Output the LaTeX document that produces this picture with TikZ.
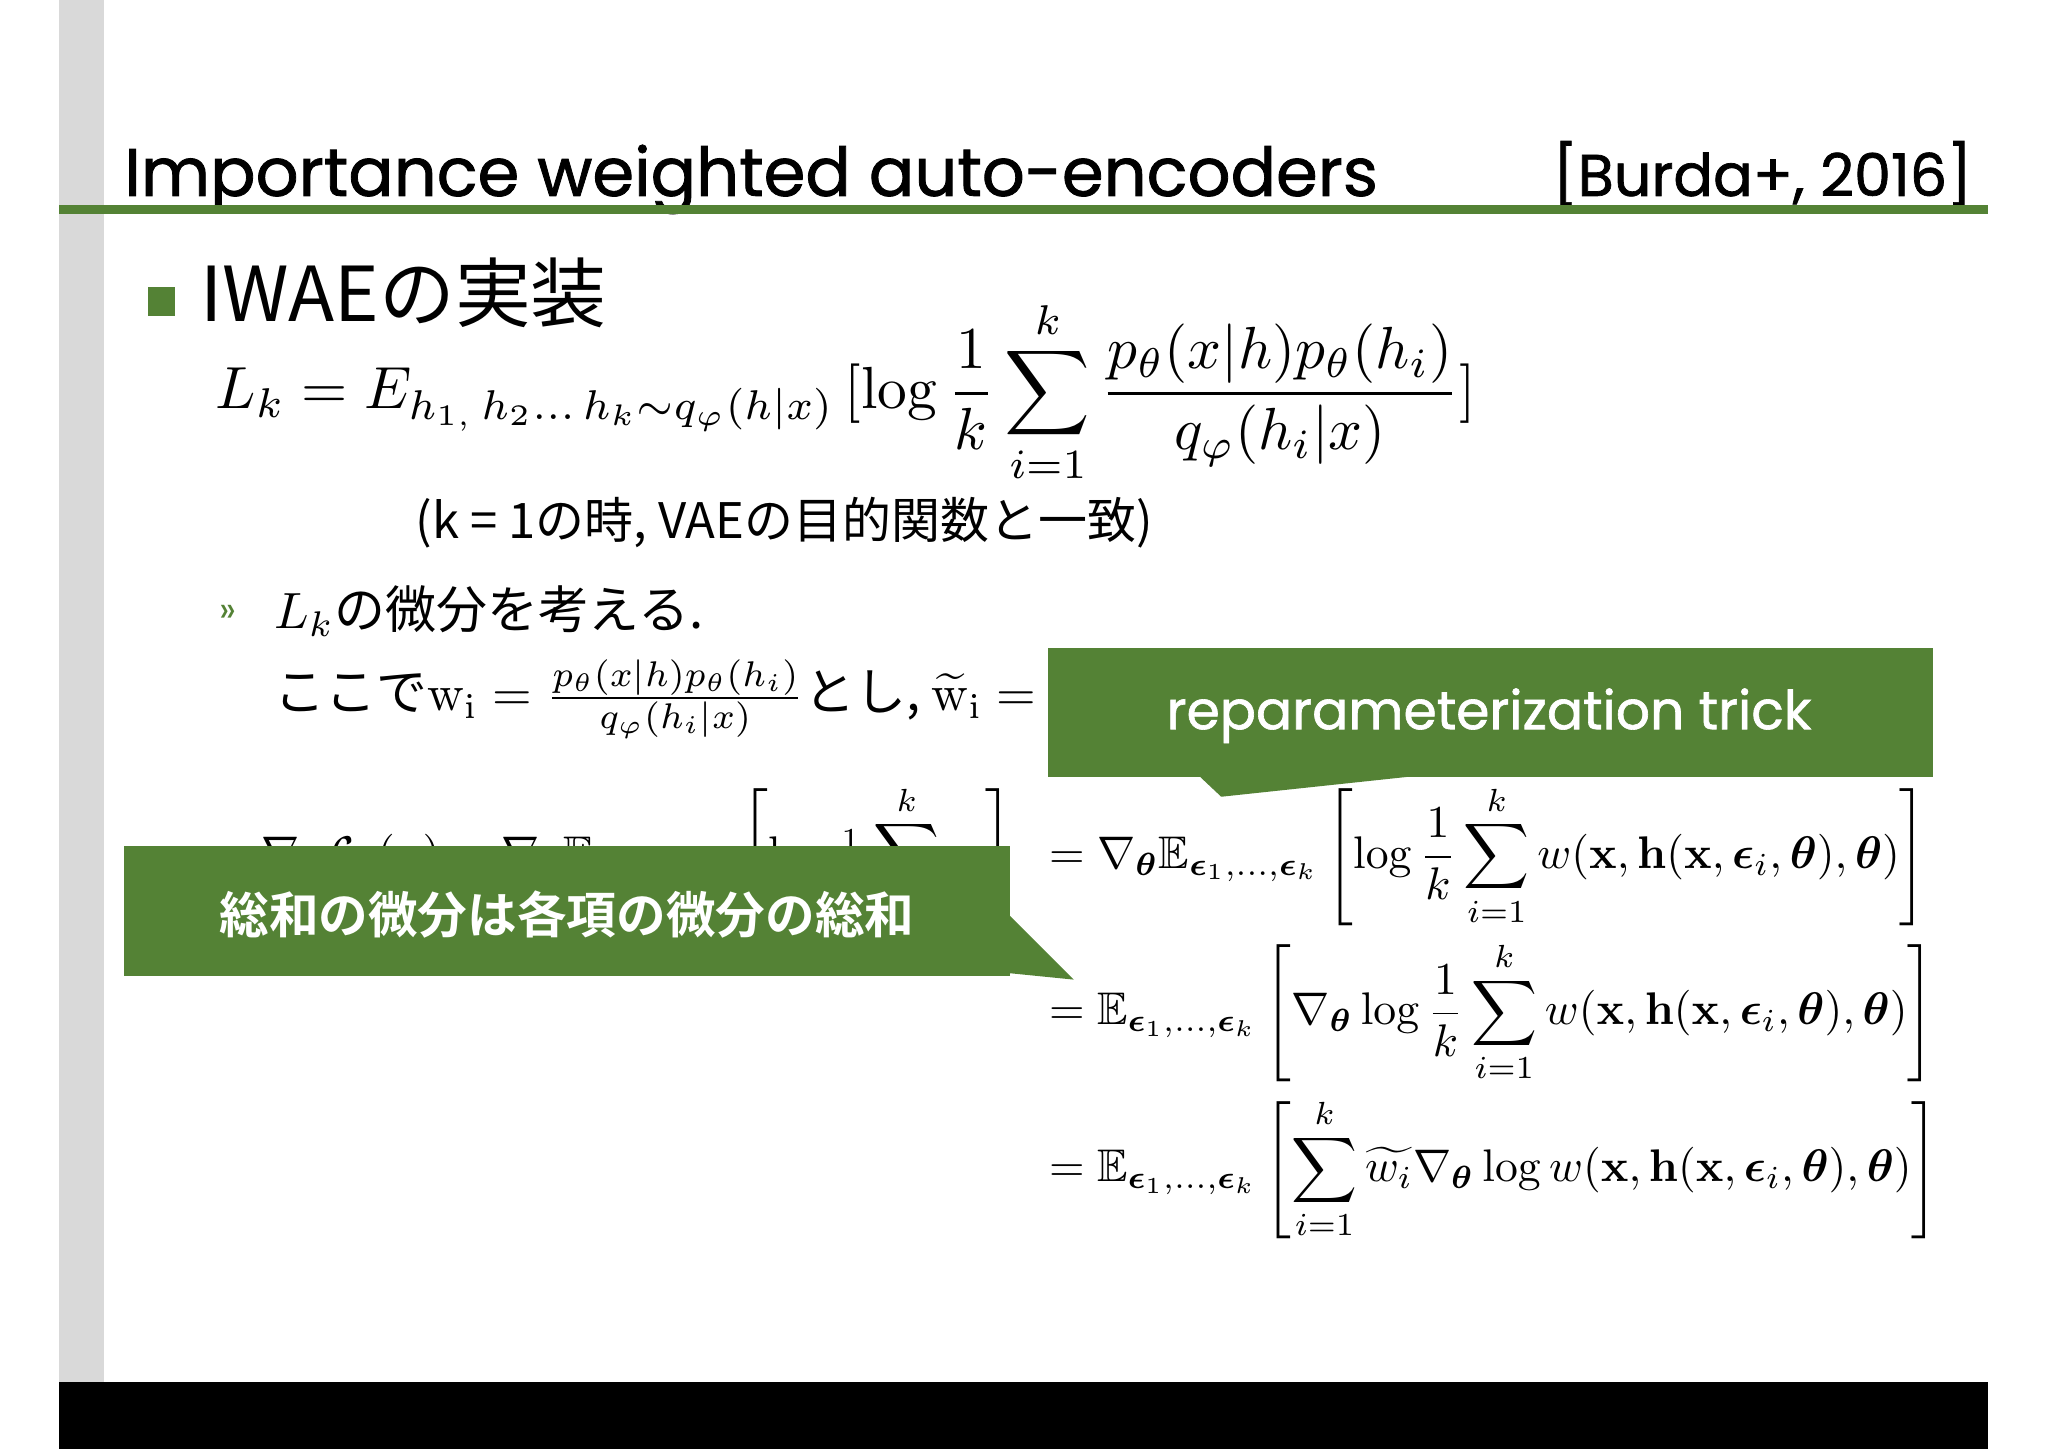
\documentclass[tikz,border=0pt]{standalone}
\usepackage{amsmath,amssymb,bm,graphicx}
\usepackage[no-math]{fontspec}
\setmainfont{Poppins}
\newfontfamily\tf[FakeBold=1.2]{Poppins}
\newfontfamily\jp{Noto Sans CJK JP}
\newfontfamily\jpb{Noto Sans CJK JP Bold}
\definecolor{gr}{HTML}{548235}
\begin{document}
\begin{tikzpicture}[x=1pt,y=1pt,
  txt/.style={anchor=west,inner sep=0pt},
  call/.style={fill=gr,draw=none}]
\useasboundingbox (0,0) rectangle (1568,-1109);
\fill[white] (0,0) rectangle (1568,-1109);
\fill[gray!30] (45,0) rectangle (80,-1058);
\fill[black] (45,-1058) rectangle (1522,-1109);
\node[txt,anchor=base west] (title) at (95,-150) {\fontsize{51.5}{56}\selectfont\tf Importance weighted auto-encoders};
\node[txt,anchor=base east] (cite) at (1510,-150) {\fontsize{45}{50}\selectfont\tf [Burda+, 2016]};
\fill[gr] (45,-157) rectangle (1522,-164);
\fill[gr] (113,-220) rectangle (134,-242);
\node[txt,anchor=base west] (h1) at (153,-246) {\fontsize{58}{64}\selectfont\jp IWAEの実装};
\node[txt] (lk) at (165,-300) {\scalebox{4.55}{$L_k = E_{h_{1,}\,h_2\ldots\,h_k\sim q_\varphi(h|x)}\,[\log\dfrac{1}{k}\displaystyle\sum_{i=1}^{k}\dfrac{p_\theta(x|h)p_\theta(h_i)}{q_\varphi(h_i|x)}]$}};
\node[txt] (k1) at (318,-400) {\fontsize{37.5}{42}\selectfont\jp (k = 1の時, VAEの目的関数と一致)};
\node[txt] (ra) at (168,-470) {\fontsize{28}{32}\selectfont\color{gr}»};
\node[txt] (lkd) at (210,-468) {\scalebox{3.9}{\jp $L_k$の微分を考える.}};
\node[txt] (koko) at (210,-535) {\scalebox{3.9}{\jp ここで$\mathrm{w_i} = \frac{p_\theta(x|h)p_\theta(h_i)}{q_\varphi(h_i|x)}$とし, $\widetilde{\mathrm{w}}_{\mathrm{i}} =$}};
% left hidden equation
\node[txt] (le) at (200,-655) {\scalebox{3.5}{$\nabla_{\bm\theta}\mathcal{L}_k(\mathbf{x}) = \nabla_{\bm\theta}\mathbb{E}_{\mathbf{h}_1,\ldots,\mathbf{h}_k}\left[\log\frac{1}{k}\displaystyle\sum_{i=1}^{k}\hspace{10pt}\right]$}};
% right equations
\node[txt] (e1) at (803,-655) {\scalebox{3.5}{$\displaystyle=\nabla_{\bm\theta}\mathbb{E}_{\bm\epsilon_1,\ldots,\bm\epsilon_k}\left[\log\frac{1}{k}\sum_{i=1}^{k}w(\mathbf{x},\mathbf{h}(\mathbf{x},\bm\epsilon_i,\bm\theta),\bm\theta)\right]$}};
\node[txt] (e2) at (803,-775) {\scalebox{3.5}{$\displaystyle=\mathbb{E}_{\bm\epsilon_1,\ldots,\bm\epsilon_k}\left[\nabla_{\bm\theta}\log\frac{1}{k}\sum_{i=1}^{k}w(\mathbf{x},\mathbf{h}(\mathbf{x},\bm\epsilon_i,\bm\theta),\bm\theta)\right]$}};
\node[txt] (e3) at (803,-895) {\scalebox{3.5}{$\displaystyle=\mathbb{E}_{\bm\epsilon_1,\ldots,\bm\epsilon_k}\left[\sum_{i=1}^{k}\widetilde{w_i}\nabla_{\bm\theta}\log w(\mathbf{x},\mathbf{h}(\mathbf{x},\bm\epsilon_i,\bm\theta),\bm\theta)\right]$}};
% callouts
\fill[call] (802,-496) rectangle (1480,-595);
\fill[call] (918,-594) -- (935,-610) -- (1085,-594) -- cycle;
\node[white,inner sep=0pt] (rt) at (1140,-548) {\fontsize{41}{46}\selectfont\tf reparameterization trick};
\fill[call] (95,-648) rectangle (773,-747);
\fill[call] (772,-700) -- (822,-750) -- (772,-745) -- cycle;
\node[white,inner sep=0pt] (sw) at (434,-700) {\fontsize{38}{44}\selectfont\jpb 総和の微分は各項の微分の総和};
\end{tikzpicture}
\end{document}
